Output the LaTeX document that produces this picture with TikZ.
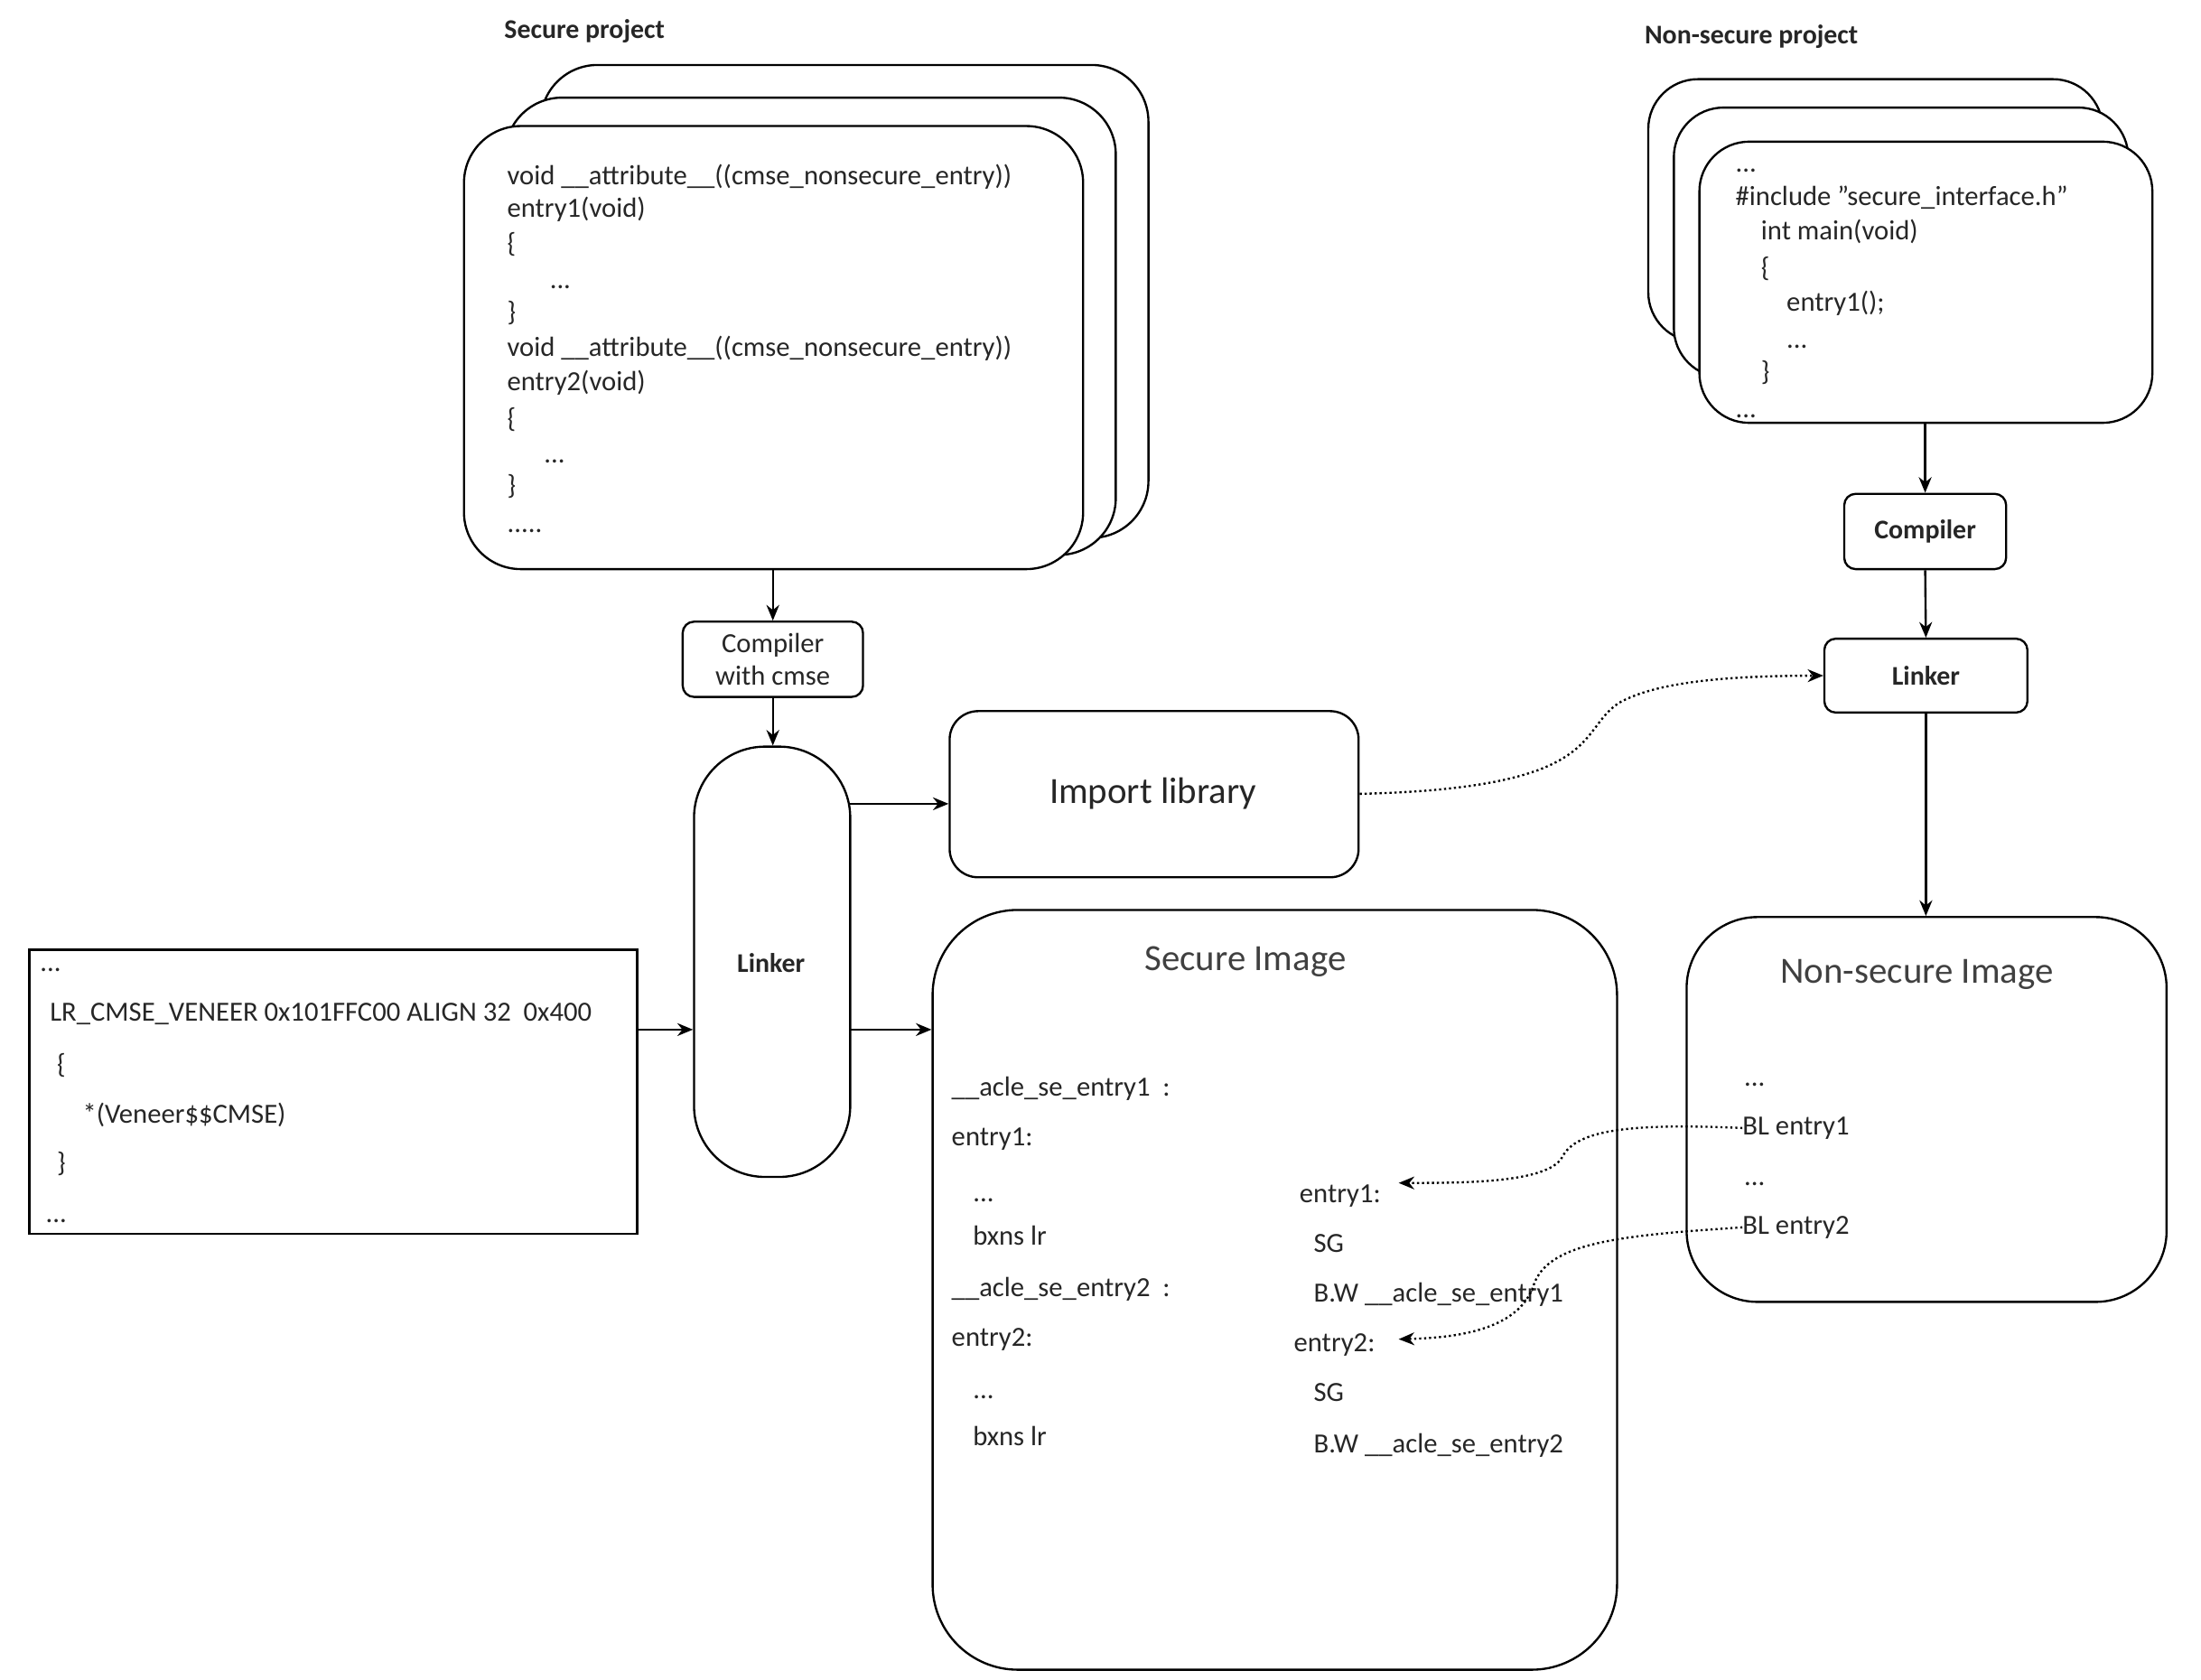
\documentclass[tikz,border=0pt]{standalone}
\usepackage{fontspec}
\setmainfont{Carlito}
\usetikzlibrary{arrows.meta}
\begin{document}
\begin{tikzpicture}[x=1pt,y=-1pt,
  box/.style={draw=black,line width=1.5pt,fill=white,anchor=north west,inner sep=0pt},
  t/.style={anchor=base west,inner sep=0pt,text=black!85,font=\fontsize{19.5}{22}\selectfont},
  lbl/.style={inner sep=0pt,text=black!85,font=\bfseries\fontsize{19}{22}\selectfont},
  arr/.style={-{Stealth[length=11pt,width=9pt]},line width=1.5pt},
  dot/.style={-{Stealth[length=11pt,width=9pt]},line width=1.5pt,dotted}]
\useasboundingbox (0,0) rectangle (1550,1183);
\def\bx#1#2#3#4#5#6{\node[box,rounded corners=#6,minimum width=#4-#2,minimum height=#5-#3] (#1) at (#2,#3) {};}
% secure project
\node[lbl,anchor=base west] (sp) at (355,27) {Secure project};
\bx{s3}{380}{45}{808}{378}{40}
\bx{s2}{355}{68}{785}{390}{40}
\bx{s1}{326}{88}{762}{400}{40}
\foreach \s/\y/\x [count=\i] in {{void \_\_attribute\_\_((cmse\_nonsecure\_entry))}/130/357,{entry1(void)}/153/357,{\{}/178/357,{...}/203/387,{\}}/226/357,{void \_\_attribute\_\_((cmse\_nonsecure\_entry))}/251/357,{entry2(void)}/275/357,{\{}/301/357,{...}/326/383,{\}}/348/357,{.....}/375/357}
  \node[t] (sc\i) at (\x,\y) {\s};
\node[box,rounded corners=8,minimum width=127,minimum height=53,align=center,font=\fontsize{19.5}{23}\selectfont,text=black!85] (cc) at (480,437) {Compiler\\with cmse};
\bx{lk}{488}{525}{598}{828}{50}
\node[lbl] (lkt) at (543,678) {Linker};
\draw[arr] (s1.south -| cc) -- (cc.north);
\draw[arr] (cc.south) -- (lk.north -| cc);
\node[box,rounded corners=20,minimum width=288,minimum height=117] (il) at (668,500) {};
\node[font=\fontsize{26}{30}\selectfont,text=black!85] (ilt) at (812,559) {Import library};
\draw[arr] (598,566) coordinate (a1) -- (il.west |- a1);
\bx{si}{656}{640}{1138}{1175}{60}
\node[font=\fontsize{26}{30}\selectfont,text=black!75] (sit) at (877,677) {Secure Image};
\draw[arr] (598,725) coordinate (a2) -- (si.west |- a2);
% veneer
\node[box,minimum width=428,minimum height=200] (vn) at (20,668) {};
\node[t] (v1) at (28,684) {...};
\node[t] (v2) at (35,719) {LR\_CMSE\_VENEER 0x101FFC00 ALIGN 32\ \ 0x400};
\node[t] (v3) at (40,756) {\{};
\node[t] (v4) at (58,791) {*(Veneer\$\$CMSE)};
\node[t] (v5) at (40,825) {\}};
\node[t] (v6) at (32,861) {...};
\draw[arr] (448,725) coordinate (a3) -- (lk.west |- a3);
% secure image text
\node[t] (l1) at (670,772) {\_\_acle\_se\_entry1\ \ :};
\node[t] (l2) at (670,807) {entry1:};
\node[t] (l3) at (685,846) {...};
\node[t] (l4) at (685,877) {bxns lr};
\node[t] (l5) at (670,913) {\_\_acle\_se\_entry2\ \ :};
\node[t] (l6) at (670,948) {entry2:};
\node[t] (l7) at (685,985) {...};
\node[t] (l8) at (685,1018) {bxns lr};
\node[t] (r1) at (915,847) {entry1:};
\node[t] (r2) at (925,882) {SG};
\node[t] (r3) at (925,917) {B.W \_\_acle\_se\_entry1};
\node[t] (r4) at (911,952) {entry2:};
\node[t] (r5) at (925,987) {SG};
\node[t] (r6) at (925,1023) {B.W \_\_acle\_se\_entry2};
% non-secure
\node[lbl,anchor=base west] (np) at (1158,31) {Non-secure project};
\bx{n3}{1160}{55}{1480}{240}{35}
\bx{n2}{1178}{75}{1498}{265}{35}
\bx{n1}{1196}{99}{1515}{297}{35}
\foreach \s/\y/\x [count=\i] in {{...}/121/1222,{\#include \symbol{34}secure\_interface.h\symbol{34}}/145/1222,{int main(void)}/169/1240,{\{}/195/1240,{entry1();}/219/1258,{...}/245/1258,{\}}/268/1240,{...}/294/1222}
  \node[t] (nc\i) at (\x,\y) {\s};
\node[box,rounded corners=8,minimum width=114,minimum height=53,font=\bfseries\fontsize{19}{22}\selectfont,text=black!85] (nc) at (1298,347) {Compiler};
\node[box,rounded corners=8,minimum width=143,minimum height=52,font=\bfseries\fontsize{19}{22}\selectfont,text=black!85] (nl) at (1284,449) {Linker};
\bx{ni}{1187}{645}{1525}{916}{50}
\node[font=\fontsize{26}{30}\selectfont,text=black!75] (nit) at (1350,686) {Non-secure Image};
\node[t] (b0) at (1228,765) {...};
\node[t] (b1) at (1227,799) {BL entry1};
\node[t] (b2) at (1228,835) {...};
\node[t] (b3) at (1227,869) {BL entry2};
\draw[arr] (n1.south -| nc) -- (nc.north);
\draw[arr] (nc.south) -- (nl.north);
\draw[arr] (nl.south) -- (ni.north -| nl);
% dotted
\draw[dot] (il.east |- ilt) .. controls (1130,555) and (1110,515) .. (1140,495) .. controls (1170,478) and (1230,476) .. (nl.west);
\draw[dot] (b1.west) .. controls (1150,791) and (1110,795) .. (1100,815) .. controls (1090,833) and (1030,833) .. (985,833);
\draw[dot] (b3.west) .. controls (1140,870) and (1090,875) .. (1080,905) .. controls (1070,935) and (1030,942) .. (985,943);
\end{tikzpicture}
\end{document}
